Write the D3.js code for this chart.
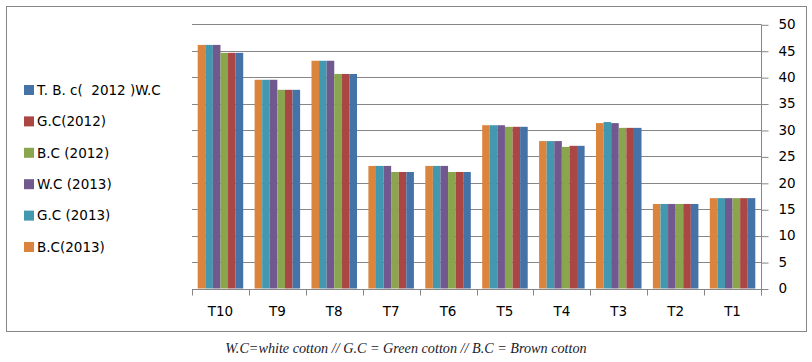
<!DOCTYPE html>
<html>
<head>
<meta charset="utf-8">
<script src="https://cdn.jsdelivr.net/npm/d3@7"></script>
<style>
  body { margin: 0; background: #fff; }
  svg { display: block; }
</style>
</head>
<body>
<div id="chart"></div>
<script>
var categories = ["T10", "T9", "T8", "T7", "T6", "T5", "T4", "T3", "T2", "T1"];

// bar order left to right inside each group
var seriesNames = ["B.C(2013)", "G.C (2013)", "W.C (2013)", "B.C (2012)", "G.C(2012)", "T. B. c(  2012 )W.C"];
var seriesColors = ["#DB843D", "#4198AF", "#71588F", "#89A54E", "#AA4643", "#4572A7"];

var bc2013 = [46.1, 39.5, 43.1, 23.2, 23.2, 30.9, 27.9, 31.3, 16.0, 17.1];
var gc2013 = [46.1, 39.5, 43.1, 23.2, 23.2, 30.9, 27.9, 31.5, 16.0, 17.1];
var wc2013 = [46.1, 39.5, 43.1, 23.2, 23.2, 30.9, 27.9, 31.3, 16.0, 17.1];
var bc2012 = [44.6, 37.6, 40.6, 22.05, 22.05, 30.6, 26.8, 30.4, 16.0, 17.1];
var gc2012 = [44.6, 37.6, 40.6, 22.05, 22.05, 30.6, 27.0, 30.4, 16.0, 17.1];
var wc2012 = [44.6, 37.6, 40.6, 22.05, 22.05, 30.6, 27.0, 30.4, 16.0, 17.1];

var seriesValues = [bc2013, gc2013, wc2013, bc2012, gc2012, wc2012];
var yTicks = [0, 5, 10, 15, 20, 25, 30, 35, 40, 45, 50];

var caption = "W.C=white cotton // G.C = Green cotton // B.C = Brown cotton";

var width = 812, height = 362;
var plot = {left: 192, right: 761, top: 24.3, bottom: 288.5};
var gridColor = "#868686";
var labelFont = "'DejaVu Sans', Verdana, sans-serif";

var svg = d3.select("#chart")
    .append("svg")
      .attr("width", width)
      .attr("height", height);

// outer frame
svg.append("rect")
    .attr("x", 6.5)
    .attr("y", 6.5)
    .attr("width", 800)
    .attr("height", 325)
    .attr("fill", "#fff")
    .attr("stroke", gridColor)
    .attr("stroke-width", 1);

var x0 = d3.scaleBand()
    .domain(categories)
    .range([plot.left, plot.right])
    .paddingInner(0.2)
    .paddingOuter(0.1);

var x1 = d3.scaleBand()
    .domain(seriesNames)
    .range([0, x0.bandwidth()]);

var y = d3.scaleLinear()
    .domain([0, 50])
    .range([plot.bottom, plot.top]);

// gridlines
svg.append("g")
    .selectAll("line")
    .data(yTicks.filter(function(d) { return d > 0; }))
    .enter()
    .append("line")
      .attr("x1", plot.left)
      .attr("x2", plot.right)
      .attr("y1", function(d) { return Math.round(y(d)) + 0.5; })
      .attr("y2", function(d) { return Math.round(y(d)) + 0.5; })
      .attr("stroke", gridColor)
      .attr("stroke-width", 1);

// bars
var rows = categories.map(function(c, i) {
  return seriesNames.map(function(s, j) {
    return {cat: c, series: s, value: seriesValues[j][i], color: seriesColors[j]};
  });
});

svg.append("g")
    .selectAll("g")
    .data(rows)
    .enter()
    .append("g")
      .attr("transform", function(d) { return "translate(" + x0(d[0].cat) + ",0)"; })
    .selectAll("rect")
    .data(function(d) { return d; })
    .enter()
    .append("rect")
      .attr("x", function(d) { return x1(d.series); })
      .attr("y", function(d) { return y(d.value); })
      .attr("width", x1.bandwidth())
      .attr("height", function(d) { return y(0) - y(d.value); })
      .attr("fill", function(d) { return d.color; });

// x axis line + boundary ticks
var xAxisY = Math.round(plot.bottom) + 0.5;
svg.append("line")
    .attr("x1", plot.left)
    .attr("x2", plot.right)
    .attr("y1", xAxisY)
    .attr("y2", xAxisY)
    .attr("stroke", gridColor);

var bounds = categories.map(function(c) { return x0(c) - x0.paddingOuter() * x0.step(); });
bounds.push(plot.right);
svg.append("g")
    .selectAll("line")
    .data(bounds)
    .enter()
    .append("line")
      .attr("x1", function(d) { return Math.round(d) + 0.5; })
      .attr("x2", function(d) { return Math.round(d) + 0.5; })
      .attr("y1", xAxisY)
      .attr("y2", xAxisY + 6)
      .attr("stroke", gridColor);

var xAxis = svg.append("g")
    .attr("transform", "translate(0," + xAxisY + ")")
    .call(d3.axisBottom(x0).tickSize(0).tickPadding(17));
xAxis.select(".domain").remove();
xAxis.selectAll("text")
    .style("font-family", labelFont)
    .style("font-size", "13.5px")
    .attr("fill", "#000");

// y axis on the right
var yAxis = svg.append("g")
    .attr("transform", "translate(" + (plot.right + 0.5) + ",0)")
    .call(d3.axisRight(y).tickValues(yTicks).tickSize(7).tickPadding(10));
yAxis.select(".domain").remove();
yAxis.selectAll(".tick line")
    .attr("stroke", gridColor)
    .attr("transform", "translate(0,0.5)");
yAxis.selectAll("text")
    .style("font-family", labelFont)
    .style("font-size", "13.5px")
    .attr("fill", "#000");
svg.append("line")
    .attr("x1", plot.right + 0.5)
    .attr("x2", plot.right + 0.5)
    .attr("y1", plot.top)
    .attr("y2", xAxisY + 6)
    .attr("stroke", gridColor);

// legend (reverse order of the bars)
var legendItems = seriesNames.map(function(s, j) { return {name: s, color: seriesColors[j]}; }).reverse();
var legendY = d3.scalePoint()
    .domain(legendItems.map(function(d) { return d.name; }))
    .range([90, 247]);

var legend = svg.append("g")
    .selectAll("g")
    .data(legendItems)
    .enter()
    .append("g")
      .attr("transform", function(d) { return "translate(24," + legendY(d.name) + ")"; });

legend.append("rect")
    .attr("x", 0)
    .attr("y", -5)
    .attr("width", 10)
    .attr("height", 10)
    .attr("fill", function(d) { return d.color; });

legend.append("text")
    .attr("x", 13)
    .attr("y", 0)
    .attr("dy", "0.35em")
    .style("font-family", labelFont)
    .style("font-size", "13.5px")
    .style("white-space", "pre")
    .attr("fill", "#000")
    .text(function(d) { return d.name; });

// caption
svg.append("text")
    .attr("x", 406)
    .attr("y", 353)
    .attr("text-anchor", "middle")
    .style("font-family", "'Liberation Serif', 'Times New Roman', serif")
    .style("font-style", "italic")
    .style("font-size", "14.2px")
    .attr("fill", "#1a1a2a")
    .text(caption);
</script>
</body>
</html>
